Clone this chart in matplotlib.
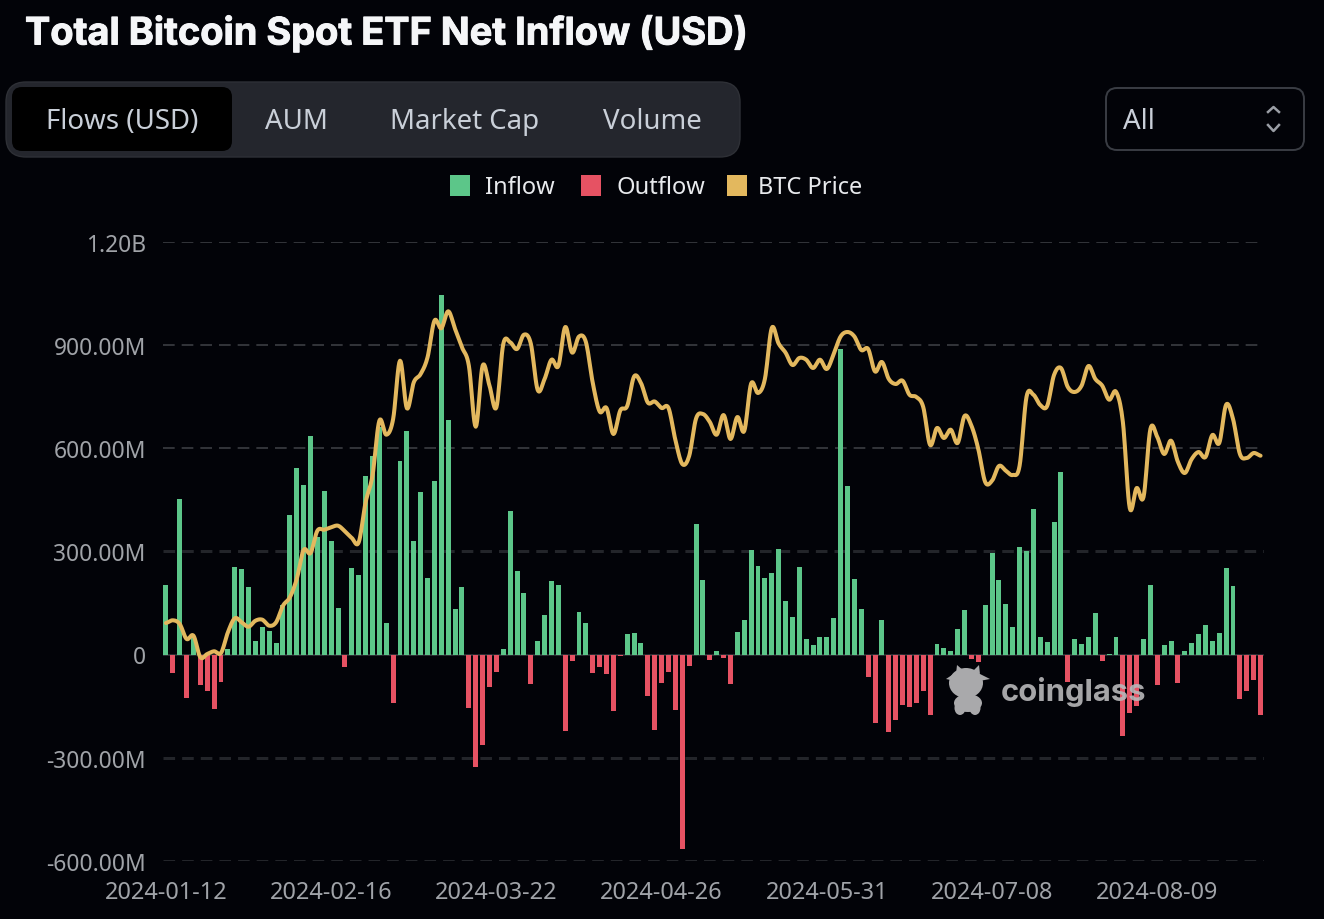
import numpy as np
from matplotlib import pyplot as plt
from matplotlib import patheffects
from matplotlib.patches import FancyBboxPatch, Rectangle, Ellipse, Polygon

# net flow per bar, in millions of USD
flows = [202, -53, 453, -127, 50, -88, -106, -159, -80, 15,
         255, 247, 196, 38, 79, 68, 34, 145, 405, 541,
         493, 636, 340, 476, 330, 136, -36, 251, 232, 520,
         577, 660, 92, -140, 562, 648, 331, 472, 223, 505,
         1044, 682, 133, 197, -155, -326, -262, -94, -51, 15,
         417, 243, 180, -85, 39, 114, 213, 203, -223, -19,
         124, 91, -55, -35, -58, -165, -4, 60, 62, 32,
         -120, -218, -83, -51, -162, -564, -34, 379, 217, -16,
         10, -10, -85, 66, 101, 303, 257, 222, 238, 306,
         154, 109, 253, 46, 28, 50, 50, 106, 887, 489,
         218, 132, -64, -200, 101, -226, -191, -147, -153, -141,
         -107, -176, 30, 20, 11, 73, 129, -14, -21, 143,
         295, 217, 148, 79, 311, 302, 423, 52, 37, 384,
         531, -79, 44, 30, 51, 121, -19, 2, 50, -238,
         -170, -150, 44, 201, -90, 27, 38, -82, 10, 34,
         61, 86, 39, 63, 251, 200, -128, -106, -73, -177]

# BTC price per bar, on its own hidden axis
btc_price = [43600, 43870, 43500, 42000, 42330, 40170, 40500, 40770, 40600, 42670,
             44070, 43670, 43230, 43830, 43930, 43330, 43670, 45330, 46170, 48000,
             50900, 50600, 52830, 52930, 53170, 53330, 52770, 52100, 51670, 55670,
             58330, 63830, 62430, 64000, 69830, 65070, 67670, 68500, 70170, 73830,
             73070, 74770, 73000, 71170, 69330, 63230, 69330, 67330, 65170, 71500,
             71670, 71000, 72430, 71540, 66900, 68000, 69930, 69300, 73200, 70640,
             72250, 71700, 67600, 64750, 65100, 62500, 64860, 65300, 68250, 67600,
             65640, 65750, 65100, 65100, 61900, 59500, 60300, 64040, 64500, 63700,
             62430, 64400, 62000, 64200, 62800, 67540, 66600, 68000, 73100, 71540,
             70640, 69400, 70100, 69930, 69100, 69930, 69000, 70500, 72250, 72700,
             72250, 70900, 71000, 68750, 69700, 68000, 67500, 67830, 66430, 66200,
             65200, 61400, 63100, 62100, 62930, 61600, 64300, 63330, 61000, 57700,
             57830, 59300, 58830, 58400, 59330, 66200, 66430, 65400, 65300, 68400,
             69100, 67200, 66700, 67330, 69300, 68000, 67330, 65930, 66730, 63700,
             55100, 57100, 56200, 63000, 62200, 60500, 61830, 59700, 58600, 60000,
             60700, 60200, 62400, 61600, 65430, 64000, 60500, 60100, 60600, 60330]

y_ticks = [-600, -300, 0, 300, 600, 900, 1200]
y_labels = ["-600.00M", "-300.00M", "0", "300.00M", "600.00M", "900.00M", "1.20B"]
x_ticks = [0, 24, 48, 72, 96, 120, 144]
x_labels = ["2024-01-12", "2024-02-16", "2024-03-22", "2024-04-26",
            "2024-05-31", "2024-07-08", "2024-08-09"]

BG = "#020308"
GREEN = "#5CC689"
RED = "#E65263"
GOLD = "#E3B85E"
W, H = 1324, 920


def smooth(x, y, steps=10):
    """catmull-rom curve through the points, the chart draws a smoothed line"""
    x = np.asarray(x, dtype=float)
    y = np.asarray(y, dtype=float)
    p = np.concatenate(([y[0]], y, [y[-1]]))
    xs, ys = [], []
    for i in range(len(y) - 1):
        t = np.linspace(0, 1, steps, endpoint=False)
        a, b, c, d = p[i], p[i + 1], p[i + 2], p[i + 3]
        ys.append(0.5 * (2 * b + (c - a) * t + (2 * a - 5 * b + 4 * c - d) * t ** 2
                         + (3 * b - a - 3 * c + d) * t ** 3))
        xs.append(x[i] + t * (x[i + 1] - x[i]))
    return np.concatenate(xs + [x[-1:]]), np.concatenate(ys + [y[-1:]])


plt.rcParams['font.family'] = ['Inter', 'DejaVu Sans']
UI_FONT = ['Noto Sans', 'DejaVu Sans']
fig = plt.figure(figsize=(W / 100, H / 100), dpi=100, facecolor=BG)

# chart area, 162..1264 px wide and 242..862 px high
ax = fig.add_axes([162.5 / W, 1 - 862 / H, (1264 - 162.5) / W, (862 - 242.5) / H], facecolor=BG)
idx = np.arange(len(flows))
colors = [GREEN if v >= 0 else RED for v in flows]
ax.bar(idx, flows, width=0.72, color=colors, zorder=3)
ax.set_xlim(-0.5, len(flows) - 0.5)
ax.set_ylim(-600, 1200)
ax.set_yticks(y_ticks)
ax.set_yticklabels(y_labels, va='center_baseline', family=UI_FONT)
ax.set_xticks(x_ticks)
ax.set_xticklabels(x_labels, family=UI_FONT)
ax.tick_params(axis='both', length=0, labelcolor="#A0A3A8")
ax.tick_params(axis='y', pad=12, labelsize=16.4)
ax.tick_params(axis='x', pad=13.5, labelsize=16.9)
for s in ax.spines.values():
    s.set_visible(False)
ax.grid(axis='y', color="#33353A", lw=1.4, dashes=(6, 3.6), zorder=1)
# the three lower lines come out darker and wider in the screenshot
for tick, line in zip(y_ticks, ax.get_ygridlines()):
    if tick in (-600, -300, 300):
        line.set_color("#23252A")
        line.set_linewidth(2.2)
        line.set_dashes((3.8, 2.3))
ax.axhline(0, color="#2B2E33", lw=1.2, zorder=2)

price_ax = ax.twinx()
price_ax.set_ylim(19800, 81750)
price_ax.axis('off')
sx, sy = smooth(idx, btc_price)
price_ax.plot(sx, sy, color=GOLD, lw=2.9, solid_capstyle='round')

# everything around the chart, in pixel coordinates of the screenshot
ui = fig.add_axes([0, 0, 1, 1], facecolor='none')
ui.set_xlim(0, W)
ui.set_ylim(H, 0)
ui.axis('off')

title = ui.text(25, 34.5, "Total Bitcoin Spot ETF Net Inflow (USD)", color="#F5F6F8", fontsize=27.3,
                fontweight='bold', va='center', ha='left')
title.set_path_effects([patheffects.withStroke(linewidth=0.7, foreground="#F5F6F8")])


def box(x0, y0, x1, y1, r, **kw):
    ui.add_patch(FancyBboxPatch((x0 + r, y0 + r), x1 - x0 - 2 * r, y1 - y0 - 2 * r,
                                boxstyle="round,pad=%d,rounding_size=%d" % (r, r), **kw))


box(6, 83, 740, 158, 20, fc="#24262D", ec="#2E3036", lw=1)
box(12, 88, 232, 152, 10, fc="#000000", ec='none')
for label, cx in [("Flows (USD)", 122), ("AUM", 296), ("Market Cap", 465), ("Volume", 652)]:
    ui.text(cx, 122, label, color="#C9CFD8", fontsize=19.9, ha='center', va='center', family=UI_FONT)

box(1106, 89, 1304, 151, 11, fc=BG, ec="#3A3D44", lw=1.4)
ui.text(1123, 122, "All", color="#C9CFD8", fontsize=19.9, ha='left', va='center', family=UI_FONT)
ui.plot([1268, 1273.5, 1279], [113, 108, 113], color="#9A9EA5", lw=1.8)
ui.plot([1268, 1273.5, 1279], [126, 132, 126], color="#9A9EA5", lw=1.8)

for sq, color, tx, label in [(450, GREEN, 485, "Inflow"), (581, RED, 617, "Outflow"),
                             (727, GOLD, 758, "BTC Price")]:
    ui.add_patch(Rectangle((sq, 176), 20, 21, fc=color, ec='none'))
    ui.text(tx, 187.5, label, color="#E8EAED", fontsize=17, ha='left', va='center', family=UI_FONT)

# coinglass watermark
mark = "#A9A9AB"
ui.add_patch(Ellipse((966, 684), 34, 30, fc=mark, ec='none', zorder=6))
ui.add_patch(Ellipse((968, 704), 28, 18, fc=mark, ec='none', zorder=6))
ui.add_patch(Polygon([(946, 680), (955, 674), (960, 683)], fc=mark, ec='none', zorder=6))
ui.add_patch(Polygon([(990, 680), (978, 674), (974, 683)], fc=mark, ec='none', zorder=6))
ui.add_patch(Polygon([(957, 666), (964, 672), (956, 675)], fc=mark, ec='none', zorder=6))
ui.add_patch(Polygon([(979, 666), (973, 672), (980, 675)], fc=mark, ec='none', zorder=6))
ui.add_patch(Ellipse((960, 709), 11, 14, fc=mark, ec='none', zorder=6))
ui.add_patch(Ellipse((975, 709), 11, 14, fc=mark, ec='none', zorder=6))
ui.text(1001, 692, "coinglass", color="#B8B8BA", alpha=0.9, fontsize=22.3, fontweight='bold',
        ha='left', va='center', zorder=6)

fig.savefig("out.png", dpi=100, facecolor=BG)
